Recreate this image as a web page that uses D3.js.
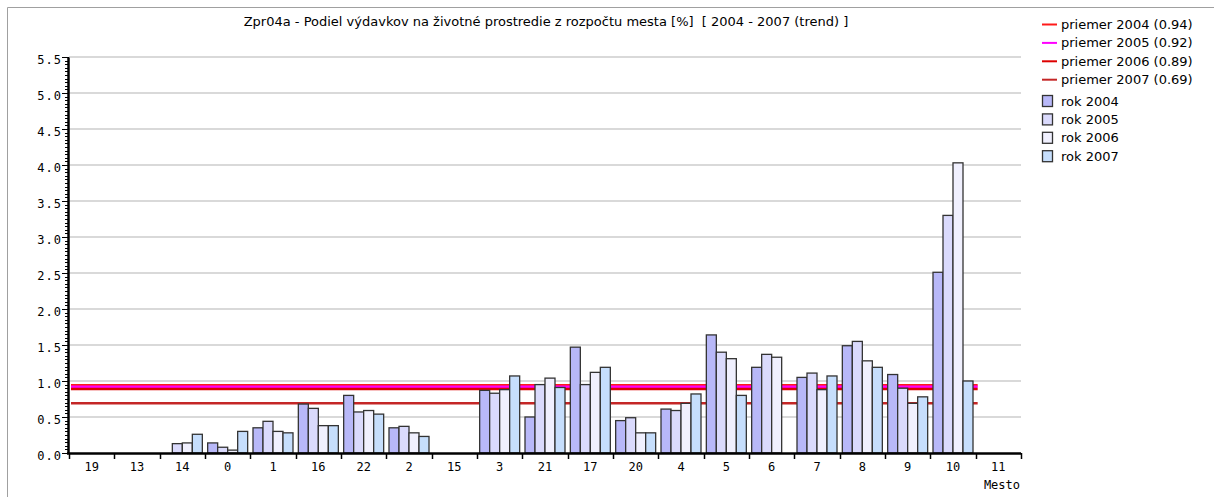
<!DOCTYPE html>
<html>
<head>
    <meta charset="UTF-8">
    <title>Zpr04a</title>
    <script type="text/javascript" src="https://d3js.org/d3.v7.min.js"></script>
    <style>
        body { margin: 0; background: #fff; }
        .mono { font-family: "DejaVu Sans Mono", monospace; font-size: 12px; fill: #000; }
    </style>
</head>
<body>
<svg id="chart"></svg>
<script type="text/javascript">
    // categories (Mesto) and yearly values
    const categories = ["19", "13", "14", "0", "1", "16", "22", "2", "15", "3", "21", "17", "20", "4", "5", "6", "7", "8", "9", "10", "11"];
    const years = ["2004", "2005", "2006", "2007"];
    const values2004 = [null, null, null, 0.14, 0.35, 0.68, 0.80, 0.35, null, 0.87, 0.50, 1.47, 0.45, 0.61, 1.64, 1.19, 1.05, 1.49, 1.09, 2.51, null];
    const values2005 = [null, null, 0.13, 0.08, 0.44, 0.62, 0.57, 0.37, null, 0.83, 0.95, 0.95, 0.49, 0.59, 1.40, 1.37, 1.11, 1.55, 0.90, 3.30, null];
    const values2006 = [null, null, 0.14, 0.04, 0.30, 0.38, 0.59, 0.28, null, 0.88, 1.04, 1.12, 0.28, 0.69, 1.31, 1.33, 0.88, 1.28, 0.69, 4.03, null];
    const values2007 = [null, null, 0.26, 0.30, 0.28, 0.38, 0.54, 0.23, null, 1.07, 0.91, 1.19, 0.28, 0.82, 0.80, null, 1.07, 1.19, 0.78, 1.00, null];
    const means = [0.94, 0.92, 0.89, 0.69];
    const meanLabels = ["priemer 2004 (0.94)", "priemer 2005 (0.92)", "priemer 2006 (0.89)", "priemer 2007 (0.69)"];
    const barLabels = ["rok 2004", "rok 2005", "rok 2006", "rok 2007"];
    const yTickValues = [0, 0.5, 1, 1.5, 2, 2.5, 3, 3.5, 4, 4.5, 5, 5.5];

    const series = [values2004, values2005, values2006, values2007];
    const barColors = ["#b8b8f8", "#dadafc", "#f0f0fe", "#c6defc"];
    const meanColors = ["#ff1a1a", "#ff00ff", "#dd0000", "#c42626"];

    const width = 1214, height = 497;
    const plotLeft = 69, plotRight = 1021, plotTop = 57, plotBottom = 453;

    const svg = d3.select("#chart")
        .attr("width", width)
        .attr("height", height);

    // outer frame
    svg.append("path")
        .attr("d", "M7.5," + height + "V7.5H" + width)
        .attr("fill", "none")
        .attr("stroke", "#a0a0a0");

    // scales
    const x = d3.scaleBand().domain(categories).range([plotLeft, plotRight]);
    const xInner = d3.scaleBand().domain(years).range([0, 40]);
    const y = d3.scaleLinear().domain([0, 5.5]).range([plotBottom, plotTop]);

    // grid
    svg.append("g")
        .selectAll("line")
        .data(yTickValues.filter(d => d > 0))
        .join("line")
        .attr("x1", plotLeft)
        .attr("x2", plotRight)
        .attr("y1", d => y(d))
        .attr("y2", d => y(d))
        .attr("stroke", "#cccccc")
        .attr("stroke-width", 1.5);

    // mean lines (drawn behind the bars)
    const lineEnd = x("10") + x.bandwidth() + 2;
    means.forEach((m, i) => {
        svg.append("line")
            .attr("x1", plotLeft + 2).attr("x2", lineEnd)
            .attr("y1", y(m)).attr("y2", y(m))
            .attr("stroke", meanColors[i])
            .attr("stroke-width", 2.5);
    });

    // bars
    const offset = (x.bandwidth() - 40) / 2;
    series.forEach((vals, i) => {
        svg.append("g")
            .selectAll("rect")
            .data(categories.map((c, j) => ({ c: c, v: vals[j] })).filter(d => d.v != null))
            .join("rect")
            .attr("x", d => x(d.c) + offset + xInner(years[i]))
            .attr("y", d => y(d.v))
            .attr("width", xInner.bandwidth())
            .attr("height", d => y(0) - y(d.v))
            .attr("fill", barColors[i])
            .attr("stroke", "#333")
            .attr("stroke-width", 1.3);
    });

    // y axis with minor ticks
    svg.append("g")
        .selectAll("line")
        .data(d3.range(0, 111).map(k => k * 0.05))
        .join("line")
        .attr("x1", plotLeft - 4)
        .attr("x2", plotLeft)
        .attr("y1", d => Math.round(y(d)) + 0.5)
        .attr("y2", d => Math.round(y(d)) + 0.5)
        .attr("stroke", "#000");

    const yAxis = svg.append("g")
        .attr("transform", "translate(" + (plotLeft - 1) + ",0)")
        .call(d3.axisLeft(y).tickValues(yTickValues).tickFormat(d3.format(".1f")).tickSize(6).tickSizeOuter(0));
    yAxis.select(".domain").attr("stroke-width", 2.5);
    yAxis.selectAll("text")
        .attr("class", "mono")
        .attr("x", -6)
        .attr("dy", "0.5em")
        .style("letter-spacing", "1px");
    yAxis.attr("font-family", null).attr("font-size", null);

    // x axis
    svg.append("line")
        .attr("x1", plotLeft - 2).attr("x2", plotRight)
        .attr("y1", plotBottom + 0.5).attr("y2", plotBottom + 0.5)
        .attr("stroke", "#000")
        .attr("stroke-width", 2.5);

    svg.append("g")
        .selectAll("line")
        .data(categories.map(c => x(c)).concat([plotRight]))
        .join("line")
        .attr("x1", d => Math.round(d) + 0.5)
        .attr("x2", d => Math.round(d) + 0.5)
        .attr("y1", plotBottom)
        .attr("y2", plotBottom + 6)
        .attr("stroke", "#000")
        .attr("stroke-width", 1.5);

    svg.append("g")
        .selectAll("text")
        .data(categories)
        .join("text")
        .attr("class", "mono")
        .attr("x", d => x(d) + x.bandwidth() / 2)
        .attr("y", plotBottom + 18)
        .attr("text-anchor", "middle")
        .text(d => d);

    svg.append("text")
        .attr("class", "mono")
        .attr("x", plotRight - 1)
        .attr("y", plotBottom + 36)
        .attr("text-anchor", "end")
        .text("Mesto");

    // title
    svg.append("text")
        .attr("x", 546)
        .attr("y", 26)
        .attr("text-anchor", "middle")
        .attr("font-family", "DejaVu Sans, sans-serif")
        .attr("font-size", 13)
        .style("white-space", "pre")
        .text("Zpr04a - Podiel výdavkov na životné prostredie z rozpočtu mesta [%]  [ 2004 - 2007 (trend) ]");

    // legend
    const legend = svg.append("g")
        .attr("font-family", "DejaVu Sans, sans-serif")
        .attr("font-size", 13);

    meanLabels.forEach((t, i) => {
        const cy = 24.5 + i * 18.4;
        legend.append("line")
            .attr("x1", 1042).attr("x2", 1057)
            .attr("y1", cy).attr("y2", cy)
            .attr("stroke", meanColors[i])
            .attr("stroke-width", 2);
        legend.append("text")
            .attr("x", 1061)
            .attr("y", cy + 4.5)
            .text(t);
    });

    barLabels.forEach((t, i) => {
        const cy = 101 + i * 18.4;
        legend.append("rect")
            .attr("x", 1042.5).attr("y", cy - 5.5)
            .attr("width", 10).attr("height", 11)
            .attr("fill", barColors[i])
            .attr("stroke", "#333")
            .attr("stroke-width", 1.3);
        legend.append("text")
            .attr("x", 1061)
            .attr("y", cy + 4.5)
            .text(t);
    });
</script>
</body>
</html>
